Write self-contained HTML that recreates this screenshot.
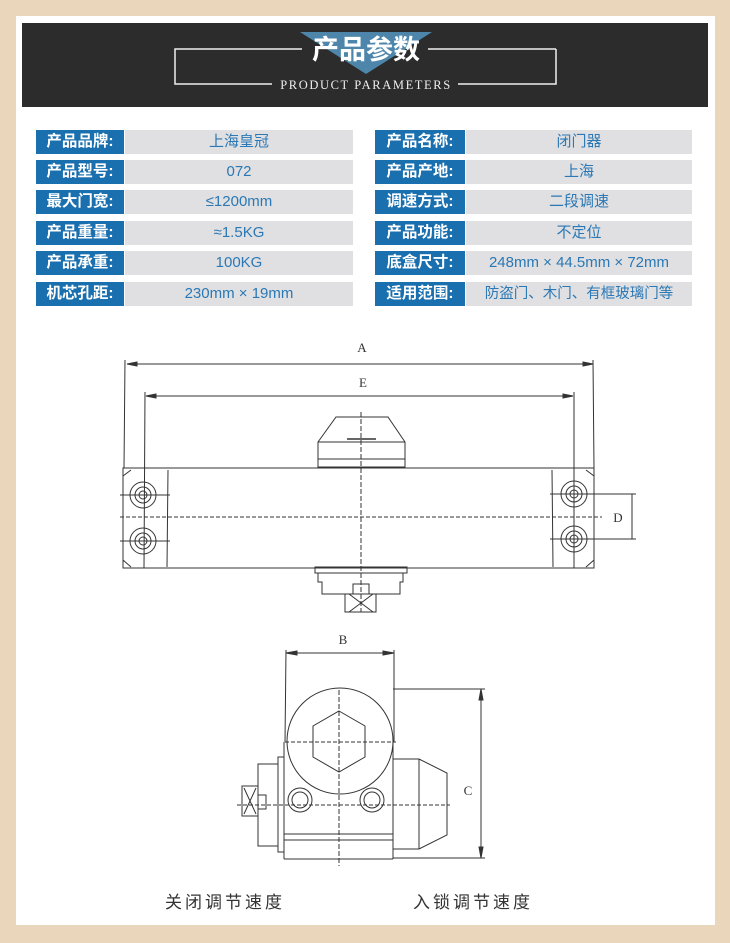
<!DOCTYPE html>
<html><head><meta charset="utf-8"><style>
body{margin:0;width:730px;height:943px;background:#ead6bb;position:relative;overflow:hidden;font-family:"Liberation Sans","Noto Sans CJK SC",sans-serif}
.in{position:absolute;left:16px;top:16px;width:699px;height:909px;background:#fff}
.hd{position:absolute;left:22px;top:23px;width:686px;height:84px;background:#2c2c2c}
.row{position:absolute;height:24px;line-height:24px;font-size:15px}
.l{position:absolute;top:0;height:24px;background:#1a6fae;color:#fff;text-align:center;font-size:15.5px;font-weight:bold}
.v{position:absolute;top:0;height:24px;background:#e0e0e2;color:#2a78b5;text-align:center}
</style></head><body>
<div class="in"></div>
<div class="hd"></div>
<svg style="position:absolute;left:0;top:0" width="730" height="943">
<polygon points="300,32 432,32 366,74" fill="#4d86aa"/>
<polyline points="302,49 175,49 175,84 272,84" fill="none" stroke="#eee" stroke-width="1.5"/>
<line x1="428" y1="49" x2="556" y2="49" stroke="#eee" stroke-width="1.5"/>
<polyline points="458,84 556,84 556,49" fill="none" stroke="#eee" stroke-width="1.5"/>
<text x="366" y="59" text-anchor="middle" font-size="27" font-weight="bold" fill="#fff" font-family="Noto Sans CJK SC,sans-serif">产品参数</text>
<text x="366" y="89" text-anchor="middle" font-size="12.5" fill="#eee" font-family="Liberation Serif,serif" letter-spacing="1.6">PRODUCT PARAMETERS</text>
<g stroke="#333" fill="none" stroke-width="1">
<line x1="127" y1="364" x2="593" y2="364"/><polygon points="127,364 137,362 137,366" fill="#333"/><polygon points="593,364 583,362 583,366" fill="#333"/>
<line x1="125" y1="360" x2="124" y2="468"/><line x1="593" y1="360" x2="594" y2="468"/>
<line x1="146" y1="396" x2="573" y2="396"/><polygon points="146,396 156,394 156,398" fill="#333"/><polygon points="573,396 563,394 563,398" fill="#333"/>
<line x1="145" y1="392" x2="144" y2="568"/><line x1="574" y1="392" x2="574" y2="568"/>
<rect x="123" y="468" width="471" height="100"/>
<line x1="168" y1="470" x2="167" y2="567"/><line x1="552" y1="470" x2="553" y2="567"/>
<path d="M123,476 l8,-6 M123,560 l8,7 M594,476 l-8,-6 M594,560 l-8,7"/>
<polygon points="318,467 318,442 336,417 388,417 405,442 405,467"/>
<line x1="318" y1="442" x2="405" y2="442"/><line x1="318" y1="459" x2="405" y2="459"/>
<line x1="347" y1="439" x2="376" y2="439" stroke-width="1.5"/>
<rect x="315" y="567" width="92" height="6"/>
<polyline points="318,573 318,582 322,582 322,594 400,594 400,582 403,582 403,573"/>
<rect x="353" y="584" width="16" height="10"/>
<rect x="345" y="594" width="31" height="18"/><path d="M349,594 L373,612 M373,594 L349,612"/>
<circle cx="143" cy="495" r="13"/><circle cx="143" cy="495" r="8"/><circle cx="143" cy="495" r="4"/>
<circle cx="143" cy="541" r="13"/><circle cx="143" cy="541" r="8"/><circle cx="143" cy="541" r="4"/>
<circle cx="574" cy="494" r="13"/><circle cx="574" cy="494" r="8"/><circle cx="574" cy="494" r="4"/>
<circle cx="574" cy="539" r="13"/><circle cx="574" cy="539" r="8"/><circle cx="574" cy="539" r="4"/>
<line x1="120" y1="495" x2="170" y2="495"/><line x1="120" y1="541" x2="170" y2="541"/>
<line x1="550" y1="494" x2="636" y2="494"/><line x1="550" y1="539" x2="636" y2="539"/>
<line x1="632" y1="494" x2="632" y2="539"/>
<line x1="120" y1="517" x2="602" y2="517" stroke-dasharray="4,2"/>
<line x1="361" y1="412" x2="361" y2="612" stroke-dasharray="5,2"/>
<line x1="286" y1="653" x2="394" y2="653"/><polygon points="286,653 297,651 297,655" fill="#333"/><polygon points="394,653 383,651 383,655" fill="#333"/>
<line x1="286" y1="650" x2="285" y2="742"/><line x1="394" y1="650" x2="394" y2="742"/>
<circle cx="340" cy="741" r="53"/>
<polygon points="339,711 365,726 365,757 339,772 313,757 313,726"/>
<line x1="284" y1="742" x2="284" y2="859"/><line x1="393" y1="742" x2="393" y2="859"/>
<line x1="284" y1="859" x2="393" y2="859"/>
<line x1="284" y1="834" x2="393" y2="834"/><line x1="284" y1="840" x2="393" y2="840"/>
<rect x="278" y="757" width="6" height="95"/>
<rect x="258" y="764" width="20" height="82"/>
<rect x="242" y="786" width="16" height="30"/><path d="M244,788 L256,814 M256,788 L244,814"/>
<rect x="258" y="795" width="8" height="14"/>
<polyline points="393,759 419,759 447,773 447,835 419,849 393,849"/><line x1="419" y1="759" x2="419" y2="849"/>
<circle cx="300" cy="800" r="12"/><circle cx="300" cy="800" r="8"/>
<circle cx="372" cy="800" r="12"/><circle cx="372" cy="800" r="8"/>
<line x1="393" y1="689" x2="485" y2="689"/><line x1="393" y1="858" x2="485" y2="858"/>
<line x1="481" y1="689" x2="481" y2="858"/><polygon points="481,689 479,700 483,700" fill="#333"/><polygon points="481,858 479,847 483,847" fill="#333"/>
<line x1="285" y1="742" x2="396" y2="742" stroke-dasharray="4,2"/>
<line x1="237" y1="805" x2="450" y2="805" stroke-dasharray="4,2"/>
<line x1="339" y1="690" x2="339" y2="866" stroke-dasharray="5,2"/>
</g>
<g font-family="Liberation Serif,serif" font-size="13" fill="#333" text-anchor="middle">
<text x="362" y="352">A</text><text x="363" y="387">E</text><text x="618" y="522">D</text>
<text x="343" y="644">B</text><text x="468" y="795">C</text></g>
<g font-size="17" fill="#333" font-family="Noto Sans CJK SC,sans-serif" letter-spacing="3">
<text x="165" y="908">关闭调节速度</text><text x="413" y="908">入锁调节速度</text></g>
</svg>
<div class="row" style="left:0;top:130px"><div class="l" style="left:36px;width:88px">产品品牌:</div><div class="v" style="left:125px;width:228px">上海皇冠</div></div>
<div class="row" style="left:0;top:160px"><div class="l" style="left:36px;width:88px">产品型号:</div><div class="v" style="left:125px;width:228px">072</div></div>
<div class="row" style="left:0;top:190px"><div class="l" style="left:36px;width:88px">最大门宽:</div><div class="v" style="left:125px;width:228px">≤1200mm</div></div>
<div class="row" style="left:0;top:221px"><div class="l" style="left:36px;width:88px">产品重量:</div><div class="v" style="left:125px;width:228px">≈1.5KG</div></div>
<div class="row" style="left:0;top:251px"><div class="l" style="left:36px;width:88px">产品承重:</div><div class="v" style="left:125px;width:228px">100KG</div></div>
<div class="row" style="left:0;top:282px"><div class="l" style="left:36px;width:88px">机芯孔距:</div><div class="v" style="left:125px;width:228px">230mm × 19mm</div></div>
<div class="row" style="left:0;top:130px"><div class="l" style="left:375px;width:90px">产品名称:</div><div class="v" style="left:466px;width:226px">闭门器</div></div>
<div class="row" style="left:0;top:160px"><div class="l" style="left:375px;width:90px">产品产地:</div><div class="v" style="left:466px;width:226px">上海</div></div>
<div class="row" style="left:0;top:190px"><div class="l" style="left:375px;width:90px">调速方式:</div><div class="v" style="left:466px;width:226px">二段调速</div></div>
<div class="row" style="left:0;top:221px"><div class="l" style="left:375px;width:90px">产品功能:</div><div class="v" style="left:466px;width:226px">不定位</div></div>
<div class="row" style="left:0;top:251px"><div class="l" style="left:375px;width:90px">底盒尺寸:</div><div class="v" style="left:466px;width:226px">248mm × 44.5mm × 72mm</div></div>
<div class="row" style="left:0;top:282px"><div class="l" style="left:375px;width:90px">适用范围:</div><div class="v" style="left:466px;width:226px;font-size:14.5px;white-space:nowrap">防盗门、木门、有框玻璃门等</div></div>
</body></html>
